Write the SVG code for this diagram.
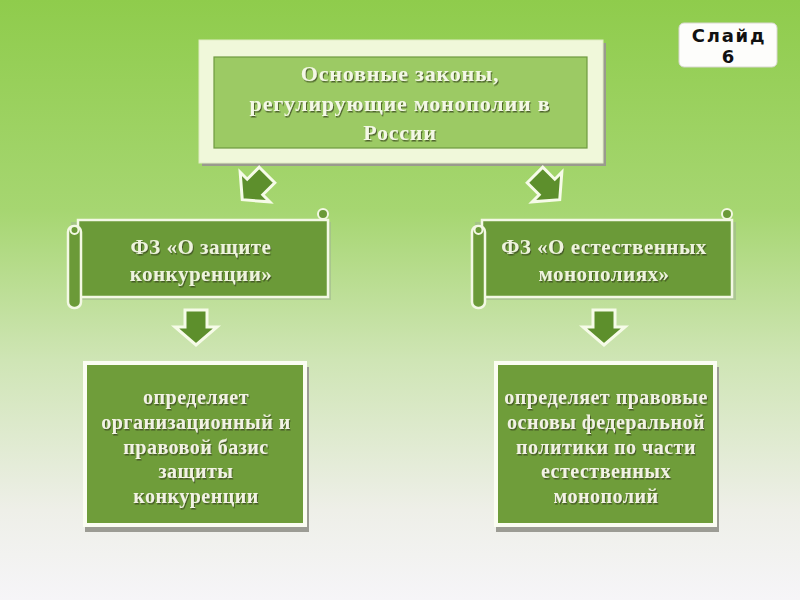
<svg xmlns="http://www.w3.org/2000/svg" width="800" height="600" viewBox="0 0 800 600">
<defs>
<linearGradient id="bg" x1="0" y1="0" x2="0" y2="1">
<stop offset="0" stop-color="#8fcc4c"/>
<stop offset="0.35" stop-color="#a6d671"/>
<stop offset="0.6" stop-color="#cfe5b5"/>
<stop offset="0.85" stop-color="#eeefe8"/>
<stop offset="1" stop-color="#f6f5f8"/>
</linearGradient>
<filter id="ts" x="-10%" y="-30%" width="120%" height="160%">
<feDropShadow dx="1" dy="1.5" stdDeviation="0.6" flood-color="#3a4a20" flood-opacity="0.8"/>
</filter>
<g id="downArrow">
<path d="M-11,-17 H11 V0 H21 L0,18 L-21,0 H-11 Z"/>
</g>
</defs>
<style>
.title{font-family:"Liberation Serif",serif;font-weight:bold;font-size:22px;fill:#f4f8e6;text-anchor:middle;letter-spacing:0.8px}
.scr{font-family:"Liberation Serif",serif;font-weight:bold;font-size:21px;fill:#eef3dd;text-anchor:middle;letter-spacing:0.5px}
.box{font-family:"Liberation Serif",serif;font-weight:bold;font-size:20px;fill:#f2f2e4;text-anchor:middle;letter-spacing:0.5px}
.arr{fill:#5d8f2c;stroke:#f6fbe8;stroke-width:3;stroke-linejoin:miter}
.scrbody{fill:#6b9a38;stroke:#f3f8e4;stroke-width:2.5}
.gbox{fill:#6f9d3a;stroke:#fbfdf2;stroke-width:4}
</style>
<rect width="800" height="600" fill="url(#bg)"/>

<g id="slide">
<rect x="679" y="23" width="98" height="44" rx="5" fill="#fdfdfb" stroke="#d8d8d0" stroke-width="1"/>
<text x="729" y="42" font-family="DejaVu Sans,sans-serif" font-weight="bold" font-size="18" letter-spacing="1.8" text-anchor="middle" fill="#111">Слайд</text>
<text x="728" y="63" font-family="DejaVu Sans,sans-serif" font-weight="bold" font-size="18" text-anchor="middle" fill="#111">6</text>
</g>

<g id="title">
<rect x="202" y="43" width="404" height="123" fill="#9a9a8e"/>
<rect x="199" y="40" width="404" height="123" fill="#f0f8da" stroke="#e0ecc4" stroke-width="1"/>
<rect x="214" y="57" width="373" height="91" fill="#9cca64" stroke="#6f9a40" stroke-width="1.2"/>
<g filter="url(#ts)">
<text class="title" x="400" y="81">Основные законы,</text>
<text class="title" x="400" y="111">регулирующие монополии в</text>
<text class="title" x="400" y="140">России</text>
</g>
</g>

<g id="scroll-left">
<rect x="71" y="222" width="260" height="78" fill="#a0b890" opacity="0.6"/>
<rect x="78" y="220" width="250" height="77" class="scrbody"/>
<rect x="68" y="226" width="13" height="82" rx="6" class="scrbody"/>
<circle cx="74.5" cy="230" r="4" fill="#6b9a38" stroke="#f3f8e4" stroke-width="2"/>
<circle cx="323" cy="214" r="5" fill="#6b9a38" stroke="#f3f8e4" stroke-width="2"/>
<g filter="url(#ts)">
<text class="scr" x="201" y="254">ФЗ «О защите</text>
<text class="scr" x="201" y="281">конкуренции»</text>
</g>
</g>

<g id="scroll-right">
<rect x="475" y="222" width="261" height="78" fill="#a0b890" opacity="0.6"/>
<rect x="482" y="220" width="250" height="77" class="scrbody"/>
<rect x="472" y="226" width="13" height="82" rx="6" class="scrbody"/>
<circle cx="478.5" cy="230" r="4" fill="#6b9a38" stroke="#f3f8e4" stroke-width="2"/>
<circle cx="727" cy="214" r="5" fill="#6b9a38" stroke="#f3f8e4" stroke-width="2"/>
<g filter="url(#ts)">
<text class="scr" x="604" y="254">ФЗ «О естественных</text>
<text class="scr" x="604" y="281">монополиях»</text>
</g>
</g>

<g id="box-left">
<rect x="85" y="367" width="224" height="165" fill="#9c9c94"/>
<rect x="85" y="363" width="220" height="162" class="gbox"/>
<g filter="url(#ts)">
<text class="box" x="196" y="404">определяет</text>
<text class="box" x="196" y="429">организационный и</text>
<text class="box" x="196" y="454">правовой базис</text>
<text class="box" x="196" y="478">защиты</text>
<text class="box" x="196" y="503">конкуренции</text>
</g>
</g>

<g id="box-right">
<rect x="496" y="367" width="223" height="165" fill="#9c9c94"/>
<rect x="496" y="363" width="219" height="162" class="gbox"/>
<g filter="url(#ts)">
<text class="box" x="606" y="404">определяет правовые</text>
<text class="box" x="606" y="429">основы федеральной</text>
<text class="box" x="606" y="454">политики по части</text>
<text class="box" x="606" y="478">естественных</text>
<text class="box" x="606" y="503">монополий</text>
</g>
</g>

<g id="connectors">
<use href="#downArrow" class="arr" transform="translate(255,187) rotate(45)"/>
<use href="#downArrow" class="arr" transform="translate(547,187) rotate(-45)"/>
<use href="#downArrow" class="arr" transform="translate(196,327)"/>
<use href="#downArrow" class="arr" transform="translate(604,327)"/>
</g>
</svg>
